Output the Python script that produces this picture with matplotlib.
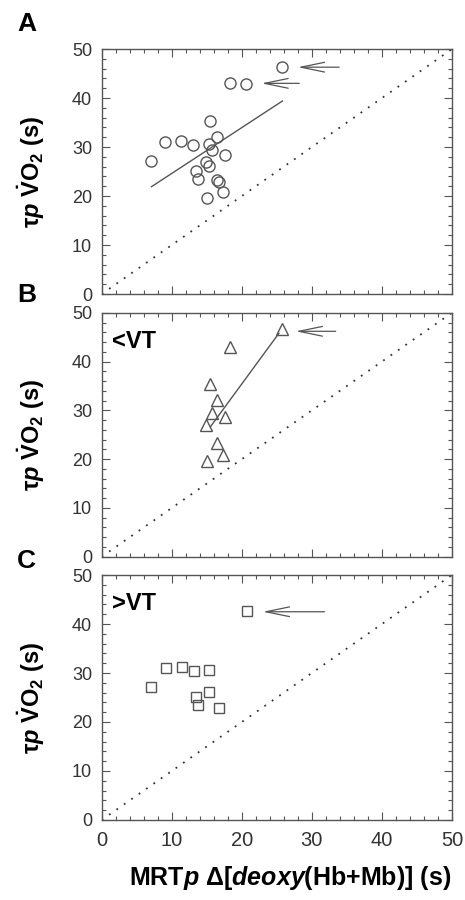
import matplotlib
matplotlib.use('Agg')
import matplotlib.pyplot as plt
import numpy as np

plt.rcParams['font.family'] = ['Liberation Sans', 'DejaVu Sans']
plt.rcParams['mathtext.fontset'] = 'custom'
plt.rcParams['mathtext.rm'] = 'Liberation Sans:bold'
plt.rcParams['mathtext.it'] = 'Liberation Sans:italic:bold'
plt.rcParams['mathtext.bf'] = 'Liberation Sans:bold'

# panel A - all subjects (circles)
a_x = [25.7, 18.3, 20.6, 15.5, 9.1, 11.3, 13.1, 15.3, 16.4, 15.8,
       17.6, 7.0, 14.9, 15.3, 13.4, 13.7, 16.4, 16.8, 17.3, 15.0]
a_y = [46.4, 43.0, 42.8, 35.3, 31.1, 31.3, 30.5, 30.7, 32.0, 29.4,
       28.4, 27.2, 27.0, 26.1, 25.1, 23.5, 23.3, 22.9, 20.8, 19.5]
a_fit_x = [7.1, 25.8]
a_fit_y = [21.9, 39.4]

# panel B - below VT (triangles)
b_x = [25.7, 18.3, 15.5, 16.4, 15.7, 17.6, 14.9, 16.4, 17.3, 15.0]
b_y = [46.6, 43.0, 35.4, 32.1, 29.4, 28.6, 27.0, 23.4, 20.9, 19.7]
b_fit_x = [15.5, 25.3]
b_fit_y = [26.6, 45.8]

# panel C - above VT (squares)
c_x = [20.7, 9.2, 11.4, 13.2, 15.3, 7.1, 15.3, 13.5, 13.8, 16.8]
c_y = [42.7, 31.0, 31.2, 30.5, 30.6, 27.2, 26.1, 25.2, 23.5, 22.9]

# arrows (tail x, head x, y)
a_arrows = [(33.9, 28.0, 46.3), (28.2, 22.8, 43.0)]
b_arrows = [(33.4, 27.7, 46.2)]
c_arrows = [(31.8, 23.0, 42.5)]

ident = [0, 50]
ticks = [0, 10, 20, 30, 40, 50]

gray = '#555555'

fig = plt.figure(figsize=(4.65, 9.0), dpi=100)
ax_a = fig.add_axes([0.2187, 0.6733, 0.7533, 0.2722])
ax_b = fig.add_axes([0.2187, 0.3814, 0.7533, 0.2711])
ax_c = fig.add_axes([0.2187, 0.0889, 0.7533, 0.2722])

panels = [
    (ax_a, a_x, a_y, 'o', 8, a_fit_x, a_fit_y, a_arrows, None, 'A', 0.973),
    (ax_b, b_x, b_y, '^', 8.5, b_fit_x, b_fit_y, b_arrows, '<VT', 'B', 0.672),
    (ax_c, c_x, c_y, 's', 7, None, None, c_arrows, '>VT', 'C', 0.377),
]

for ax, xs, ys, mk, ms, fx, fy, arrows, tag, letter, ly in panels:
    ax.plot(ident, ident, ls=(0, (1, 4)), color='#333333', lw=1.3)
    if fx is not None:
        ax.plot(fx, fy, color=gray, lw=1)
    ax.plot(xs, ys, mk, ms=ms, mfc='none', mec=gray, mew=1, ls='none')
    for x0, x1, y in arrows:
        ax.annotate('', xy=(x1, y), xytext=(x0, y),
                    arrowprops=dict(arrowstyle='->,head_length=1.7,head_width=0.35',
                                    color=gray, lw=0.9, shrinkA=0, shrinkB=0))
    if tag:
        ax.text(0.03, 0.93, tag, transform=ax.transAxes, fontsize=17,
                fontweight='bold', va='top', ha='left')
    ax.set_xlim(0, 50)
    ax.set_ylim(0, 50)
    ax.set_xticks(ticks)
    ax.set_yticks(ticks)
    ax.set_xticks(np.arange(0, 51, 2), minor=True)
    ax.set_yticks(np.arange(0, 51, 2), minor=True)
    ax.tick_params(which='both', direction='in', top=True, right=True,
                   color=gray, labelsize=13, labelcolor='#333333')
    ax.tick_params(axis='y', pad=7)
    ax.tick_params(which='major', length=6, width=0.8)
    ax.tick_params(which='minor', length=3, width=0.8)
    for s in ax.spines.values():
        s.set_color(gray)
        s.set_linewidth(1)
    ax.set_ylabel(r'τ$\mathit{p}$ $\dot{\mathrm{V}}$O$_\mathrm{2}$ (s)',
                  fontsize=17, fontweight='bold')
    ax.yaxis.set_label_coords(-0.156, 0.5)
    fig.text(0.037, ly, letter, fontsize=19, fontweight='bold',
             ha='left', va='center')
    if ax is not ax_c:
        ax.set_xticklabels([])

ax_c.tick_params(axis='x', labelsize=14.5, pad=8)
ax_c.set_xlabel(r'MRT$\mathit{p}$ Δ[$\mathit{deoxy}$(Hb+Mb)] (s)',
                fontsize=18, fontweight='bold')
ax_c.xaxis.set_label_coords(0.5375, -0.18)

fig.savefig('out.png', dpi=100)
